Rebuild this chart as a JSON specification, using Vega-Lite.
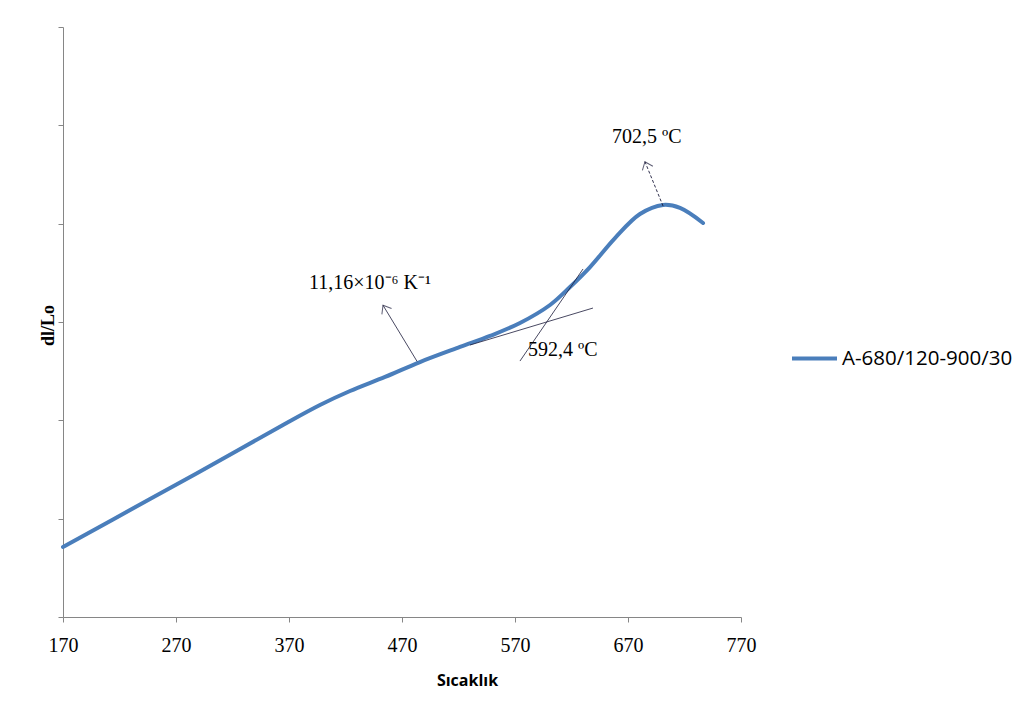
{
  "$schema": "https://vega.github.io/schema/vega-lite/v6.json",
  "autosize": "none",
  "width": 678,
  "height": 590,
  "padding": {"left": 63, "top": 27, "right": 288, "bottom": 96},
  "background": "white",
  "config": {"view": {"stroke": null}},
  "layer": [
    {
      "data": {"values": [
        {"T": 170, "v": 0.712, "s": "A-680/120-900/30"},
        {"T": 247.0, "v": 1.200, "s": "A-680/120-900/30"},
        {"T": 306.3, "v": 1.576, "s": "A-680/120-900/30"},
        {"T": 364.7, "v": 1.953, "s": "A-680/120-900/30"},
        {"T": 397.4, "v": 2.156, "s": "A-680/120-900/30"},
        {"T": 424.0, "v": 2.298, "s": "A-680/120-900/30"},
        {"T": 455.0, "v": 2.441, "s": "A-680/120-900/30"},
        {"T": 485.9, "v": 2.593, "s": "A-680/120-900/30"},
        {"T": 521.3, "v": 2.746, "s": "A-680/120-900/30"},
        {"T": 547.9, "v": 2.858, "s": "A-680/120-900/30"},
        {"T": 574.4, "v": 2.990, "s": "A-680/120-900/30"},
        {"T": 601.0, "v": 3.173, "s": "A-680/120-900/30"},
        {"T": 618.7, "v": 3.356, "s": "A-680/120-900/30"},
        {"T": 636.4, "v": 3.559, "s": "A-680/120-900/30"},
        {"T": 658.5, "v": 3.854, "s": "A-680/120-900/30"},
        {"T": 680.6, "v": 4.098, "s": "A-680/120-900/30"},
        {"T": 701.0, "v": 4.190, "s": "A-680/120-900/30"},
        {"T": 716.0, "v": 4.160, "s": "A-680/120-900/30"},
        {"T": 736.4, "v": 4.007, "s": "A-680/120-900/30"}
      ]},
      "mark": {"type": "line", "interpolate": "catmull-rom", "strokeWidth": 4, "strokeCap": "round"},
      "encoding": {
        "x": {
          "field": "T", "type": "quantitative",
          "scale": {"domain": [170, 770], "nice": false, "zero": false},
          "axis": {
            "values": [170, 270, 370, 470, 570, 670, 770], "labelFlush": false,
            "grid": false, "domainColor": "#868686", "tickColor": "#868686", "tickSize": 5,
            "labelFont": "Liberation Serif", "labelFontSize": 20, "labelColor": "#000000", "labelPadding": 13,
            "title": "Sıcaklık", "titleFont": "Open Sans", "titleFontSize": 16, "titleFontWeight": "bold",
            "titleColor": "#000000", "titleX": 404, "titleY": 63, "titleBaseline": "middle", "titleAlign": "center"
          }
        },
        "y": {
          "field": "v", "type": "quantitative",
          "scale": {"domain": [0, 6], "nice": false},
          "axis": {
            "values": [0, 1, 2, 3, 4, 5, 6], "labels": false,
            "grid": false, "domainColor": "#868686", "tickColor": "#868686", "tickSize": 5,
            "title": "dl/Lo", "titleFont": "Liberation Serif", "titleFontSize": 18, "titleFontWeight": "bold",
            "titleColor": "#000000", "titleX": -15, "titleY": 298, "titleAngle": -90, "titleBaseline": "middle", "titleAlign": "center"
          }
        },
        "color": {
          "field": "s", "type": "nominal",
          "scale": {"domain": ["A-680/120-900/30"], "range": ["#4A7EBB"]},
          "legend": {
            "title": null, "orient": "none", "legendX": 727, "legendY": 307,
            "symbolType": "stroke", "symbolSize": 2025, "symbolStrokeWidth": 4,
            "labelFont": "Open Sans", "labelFontSize": 20.5, "labelColor": "#000000", "labelOffset": 3, "labelLimit": 400
          }
        }
      }
    },
    {
      "data": {"values": [
        {"x1": 530.2, "y1": 2.766, "x2": 639.0, "y2": 3.142},
        {"x1": 574.4, "y1": 2.603, "x2": 630.2, "y2": 3.539},
        {"x1": 483.3, "y1": 2.60, "x2": 453.2, "y2": 3.17}
      ]},
      "mark": {"type": "rule", "color": "#1a1a3a", "strokeWidth": 0.8},
      "encoding": {
        "x": {"field": "x1", "type": "quantitative"},
        "y": {"field": "y1", "type": "quantitative"},
        "x2": {"field": "x2"},
        "y2": {"field": "y2"}
      }
    },
    {
      "data": {"values": [
        {"x1": 701, "y1": 4.18, "x2": 685.0, "y2": 4.63}
      ]},
      "mark": {"type": "rule", "color": "#1a1a3a", "strokeWidth": 0.9, "strokeDash": [3, 2]},
      "encoding": {
        "x": {"field": "x1", "type": "quantitative"},
        "y": {"field": "y1", "type": "quantitative"},
        "x2": {"field": "x2"},
        "y2": {"field": "y2"}
      }
    },
    {
      "data": {"values": [
        {"x": 685.0, "y": 4.63, "a": -22},
        {"x": 453.2, "y": 3.17, "a": -31}
      ]},
      "mark": {"type": "point", "shape": "M-0.55,0.7L0,0L0.55,0.7", "filled": false, "size": 420, "stroke": "#1a1a3a", "strokeWidth": 1},
      "encoding": {
        "x": {"field": "x", "type": "quantitative"},
        "y": {"field": "y", "type": "quantitative"},
        "angle": {"field": "a", "type": "quantitative", "scale": null}
      }
    },
    {
      "data": {"values": [
        {"x": 686.7, "y": 4.88, "t": "702,5 ºC"},
        {"x": 441.7, "y": 3.40, "t": "11,16×10⁻⁶ K⁻¹"}
      ]},
      "mark": {"type": "text", "font": "Liberation Serif", "fontSize": 20, "color": "#000000", "baseline": "middle", "align": "center"},
      "encoding": {
        "x": {"field": "x", "type": "quantitative"},
        "y": {"field": "y", "type": "quantitative"},
        "text": {"field": "t"}
      }
    },
    {
      "data": {"values": [
        {"x": 581.5, "y": 2.72, "t": "592,4 ºC"}
      ]},
      "mark": {"type": "text", "font": "Liberation Serif", "fontSize": 20, "color": "#000000", "baseline": "middle", "align": "left"},
      "encoding": {
        "x": {"field": "x", "type": "quantitative"},
        "y": {"field": "y", "type": "quantitative"},
        "text": {"field": "t"}
      }
    }
  ]
}
